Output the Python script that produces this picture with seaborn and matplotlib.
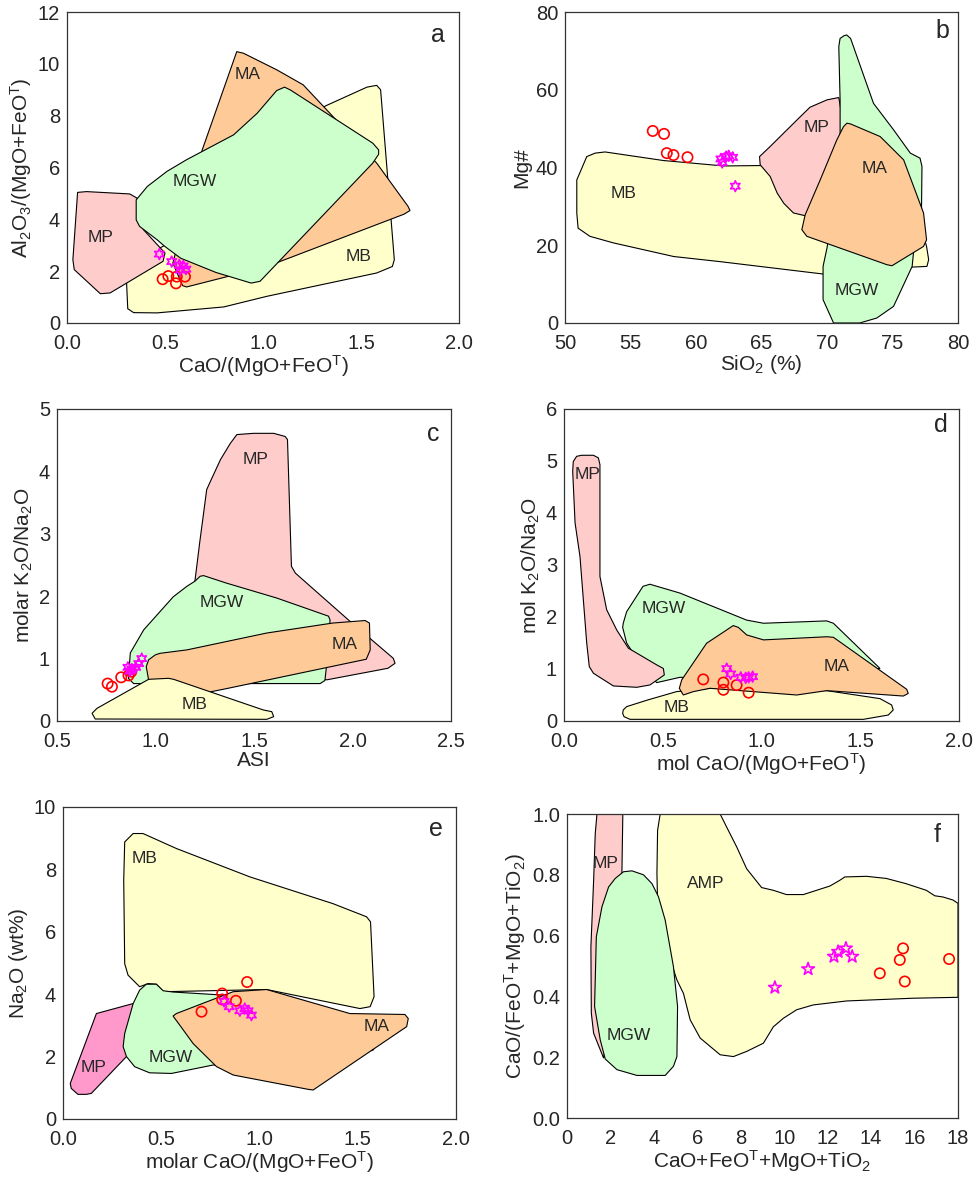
import matplotlib
matplotlib.use('Agg')
import matplotlib.pyplot as plt
import numpy as np
import pandas as pd
import seaborn as sns

# ---- field polygons (x, y) ----
# panel a : CaO/(MgO+FeOT) vs Al2O3/(MgO+FeOT)
a_mb = [(0.30, 2.2), (0.31, 0.55), (0.34, 0.40), (0.46, 0.39), (0.80, 0.62), (1.02, 1.03),
        (1.58, 1.93), (1.66, 2.18), (1.67, 2.44), (1.60, 9.0), (1.58, 9.17), (1.53, 9.1),
        (1.32, 8.38), (0.90, 6.5), (0.50, 3.0)]
a_ma = [(0.866, 10.47), (0.90, 10.41), (1.07, 9.77), (1.205, 9.19), (1.58, 6.17), (1.74, 4.50),
        (1.75, 4.34), (1.72, 4.20), (1.02, 2.18), (0.61, 1.39), (0.59, 1.44), (0.54, 2.31),
        (0.69, 6.68)]
a_mp = [(0.054, 5.04), (0.10, 5.07), (0.32, 4.98), (0.357, 4.82), (0.39, 3.6), (0.50, 2.70),
        (0.49, 2.38), (0.22, 1.16), (0.17, 1.13), (0.037, 2.06), (0.03, 2.44)]
a_mgw = [(0.353, 4.75), (0.41, 5.27), (0.51, 5.85), (0.61, 6.30), (0.85, 7.26), (0.97, 8.09),
         (1.07, 8.97), (1.11, 9.10), (1.14, 8.99), (1.56, 6.94), (1.59, 6.68), (1.59, 6.51),
         (1.56, 6.17), (0.985, 1.61), (0.94, 1.54), (0.76, 1.95), (0.58, 2.5), (0.50, 2.95),
         (0.46, 3.21), (0.37, 3.73), (0.353, 3.98)]

# panel b : SiO2 vs Mg#
b_mb = [(50.9, 36.8), (51.66, 42.8), (52.3, 43.7), (53.06, 44.0), (57.5, 41.8), (62.1, 40.4),
        (64.9, 40.5), (71.5, 40.3), (76.6, 31.7), (77.6, 19.7), (77.76, 16.3), (77.63, 14.56),
        (76.6, 14.4), (69.7, 12.6), (61.8, 15.8), (58.3, 17.1), (53.7, 20.6), (51.9, 22.3),
        (51.0, 24.4), (50.9, 28.3)]
b_mp = [(64.85, 42.8), (65.66, 45.4), (67.7, 52.2), (68.7, 55.5), (70.0, 57.4), (70.9, 58.0),
        (71.3, 50.0), (70.0, 35.0), (68.33, 27.6), (67.44, 28.3), (66.7, 30.8), (66.2, 33.4),
        (65.66, 37.7), (64.9, 40.7)]
b_mgw = [(71.3, 73.9), (71.5, 74.1), (71.8, 73.2), (73.55, 56.5), (75.08, 49.7), (76.36, 43.7),
         (77.1, 42.4), (77.25, 40.3), (77.2, 25.0), (76.6, 18.0), (76.5, 14.56), (75.08, 4.28),
         (73.8, 1.28), (72.5, 0.0), (70.5, 0.0), (69.7, 6.0), (69.7, 14.56), (70.0, 19.3),
         (71.0, 40.0), (71.0, 57.4), (70.9, 71.1), (71.0, 73.2)]
b_ma = [(71.52, 51.4), (71.8, 51.2), (74.06, 47.96), (75.85, 41.97), (77.37, 28.3), (77.6, 21.4),
        (77.37, 19.7), (74.96, 14.73), (74.57, 15.0), (68.46, 22.3), (68.08, 24.0), (68.33, 27.8),
        (69.48, 36.8), (70.75, 47.1), (71.26, 50.5)]

# panel c : ASI vs molar K2O/Na2O
c_mp = [(1.413, 4.59), (1.497, 4.61), (1.60, 4.61), (1.658, 4.56), (1.67, 4.51), (1.69, 2.48),
        (1.71, 2.37), (1.99, 1.59), (2.207, 1.005), (2.216, 0.925), (2.18, 0.845), (1.87, 0.66),
        (1.4, 0.9), (1.20, 2.24), (1.226, 2.90), (1.26, 3.71), (1.286, 3.89), (1.33, 4.19),
        (1.38, 4.45)]
c_mgw = [(1.244, 2.33), (1.36, 2.21), (1.616, 1.97), (1.878, 1.68), (1.886, 1.62), (1.866, 0.82),
         (1.86, 0.65), (1.836, 0.60), (0.889, 0.60), (0.863, 0.68), (0.872, 1.09), (0.94, 1.46),
         (1.09, 1.99), (1.16, 2.16), (1.20, 2.24), (1.227, 2.32)]
c_ma = [(0.999, 1.06), (1.024, 1.085), (1.16, 1.14), (1.565, 1.41), (1.90, 1.57), (2.064, 1.61),
        (2.086, 1.57), (2.09, 1.14), (2.07, 0.99), (1.362, 0.52), (1.26, 0.455), (0.965, 0.66),
        (0.953, 0.87), (0.965, 0.98)]
c_mb = [(0.678, 0.123), (0.694, 0.032), (1.565, 0.027), (1.60, 0.07), (1.59, 0.15), (1.548, 0.176),
        (1.092, 0.668), (1.066, 0.684), (0.965, 0.668), (0.703, 0.203)]

# panel d : mol CaO/(MgO+FeOT) vs mol K2O/Na2O
d_mb = [(0.30, 0.212), (0.317, 0.276), (0.42, 0.40), (0.57, 0.565), (0.74, 0.629), (1.33, 0.584),
        (1.60, 0.43), (1.659, 0.308), (1.667, 0.212), (1.642, 0.115), (1.516, 0.032),
        (0.334, 0.032), (0.304, 0.083), (0.297, 0.148)]
d_mgw = [(0.30, 1.88), (0.317, 2.10), (0.40, 2.59), (0.435, 2.63), (0.587, 2.46), (0.756, 2.20),
         (0.925, 1.94), (1.01, 1.88), (1.33, 1.925), (1.364, 1.88), (1.60, 1.01), (1.10, 0.80),
         (0.587, 0.84), (0.469, 0.738), (0.368, 1.20), (0.317, 1.50), (0.297, 1.80)]
d_mp = [(0.064, 5.09), (0.089, 5.11), (0.149, 5.11), (0.174, 5.06), (0.182, 4.93), (0.182, 2.78),
        (0.216, 2.14), (0.267, 1.75), (0.326, 1.40), (0.469, 1.08), (0.503, 1.01), (0.508, 0.886),
        (0.435, 0.693), (0.368, 0.648), (0.25, 0.674), (0.149, 0.918), (0.128, 1.046),
        (0.115, 1.50), (0.081, 3.16), (0.056, 3.81), (0.044, 4.80), (0.047, 4.99)]
d_ma = [(0.584, 0.629), (0.596, 0.79), (0.722, 1.495), (0.857, 1.835), (0.883, 1.80),
        (0.925, 1.655), (1.01, 1.56), (1.33, 1.62), (1.364, 1.61), (1.735, 0.61), (1.743, 0.53),
        (1.718, 0.48), (1.33, 0.584), (1.178, 0.50), (0.739, 0.629), (0.655, 0.565), (0.604, 0.50)]

# panel e : molar CaO/(MgO+FeOT) vs Na2O
e_mb = [(0.314, 8.88), (0.357, 9.15), (0.407, 9.15), (0.577, 8.67), (0.951, 7.76), (1.375, 6.9),
        (1.545, 6.48), (1.565, 6.32), (1.583, 3.92), (1.563, 3.60), (1.511, 3.54), (1.036, 4.15),
        (0.51, 4.08), (0.475, 4.32), (0.433, 4.34), (0.39, 4.24), (0.331, 4.61), (0.314, 4.98),
        (0.309, 7.65)]
e_mp = [(0.17, 3.38), (0.357, 3.70), (0.40, 3.0), (0.323, 2.0), (0.144, 0.82), (0.119, 0.79),
        (0.076, 0.79), (0.042, 0.98), (0.037, 1.14)]
e_mgw = [(0.39, 4.13), (0.424, 4.32), (0.475, 4.32), (0.51, 4.11), (0.56, 4.07), (1.0, 3.9),
         (1.587, 2.32), (1.578, 2.21), (1.2, 1.6), (0.764, 1.73), (0.552, 1.46), (0.441, 1.48),
         (0.365, 1.675), (0.323, 2.0), (0.306, 2.32), (0.314, 2.74), (0.357, 3.70)]
e_ma = [(0.56, 3.30), (0.577, 3.38), (0.866, 4.08), (1.036, 4.15), (1.46, 3.38), (1.74, 3.35),
        (1.757, 3.22), (1.749, 2.96), (1.273, 0.93), (1.248, 0.95), (0.866, 1.41), (0.781, 1.68),
        (0.662, 2.42), (0.594, 3.01)]

# panel f : CaO+FeOT+MgO+TiO2 vs CaO/(FeOT+MgO+TiO2)
f_mp = [(1.38, 1.0), (2.57, 1.0), (2.53, 0.815), (2.4, 0.5), (1.685, 0.197), (1.225, 0.279),
        (1.12, 0.345), (1.10, 0.563), (1.225, 0.78), (1.30, 0.935)]
f_amp = [(4.29, 1.0), (7.05, 1.0), (7.35, 0.957), (7.81, 0.892), (8.27, 0.82), (8.96, 0.758),
         (9.5, 0.749), (10.1, 0.735), (10.88, 0.735), (12.1, 0.763), (12.56, 0.782), (12.79, 0.793),
         (13.79, 0.795), (14.7, 0.788), (15.6, 0.771), (16.54, 0.749), (16.93, 0.731),
         (17.31, 0.727), (17.77, 0.717), (18.0, 0.706), (18.0, 0.397), (15.93, 0.394),
         (12.87, 0.385), (11.34, 0.372), (10.57, 0.356), (9.96, 0.328), (9.5, 0.30), (9.04, 0.246),
         (8.27, 0.219), (7.66, 0.202), (7.05, 0.208), (6.13, 0.263), (5.67, 0.323), (5.36, 0.41),
         (5.06, 0.454), (4.4, 0.6), (4.17, 0.711), (4.14, 0.804), (4.17, 0.946)]
f_mgw = [(1.915, 0.76), (2.22, 0.788), (2.60, 0.81), (2.99, 0.813), (3.52, 0.80), (3.91, 0.771),
         (4.21, 0.728), (4.52, 0.651), (4.90, 0.498), (5.09, 0.367), (5.06, 0.202), (4.90, 0.17),
         (4.52, 0.14), (3.22, 0.14), (2.30, 0.159), (1.76, 0.194), (1.53, 0.257), (1.27, 0.367),
         (1.35, 0.596), (1.61, 0.695)]

# ---- samples ----
a_circ_x = [0.488, 0.517, 0.556, 0.56, 0.602]
a_circ_y = [1.69, 1.81, 1.53, 1.79, 1.79]
a_star_x = [0.471, 0.534, 0.573, 0.593, 0.607, 0.577]
a_star_y = [2.66, 2.37, 2.24, 2.20, 2.08, 2.04]

b_circ_x = [56.7, 57.56, 57.77, 58.28, 59.35]
b_circ_y = [49.4, 48.65, 43.7, 43.2, 42.65]
b_star_x = [61.9, 62.0, 62.3, 62.5, 62.8, 63.0]
b_star_y = [42.2, 41.3, 42.8, 43.0, 42.6, 35.2]

c_circ_x = [0.757, 0.779, 0.826, 0.863, 0.877]
c_circ_y = [0.60, 0.55, 0.70, 0.73, 0.79]
c_star_x = [0.86, 0.87, 0.88, 0.90, 0.915, 0.93]
c_star_y = [0.86, 0.80, 0.83, 0.86, 0.92, 1.0]

d_circ_x = [0.705, 0.807, 0.807, 0.874, 0.935]
d_circ_y = [0.80, 0.74, 0.60, 0.69, 0.545]
d_star_x = [0.824, 0.844, 0.895, 0.92, 0.935, 0.955]
d_star_y = [1.007, 0.905, 0.84, 0.83, 0.84, 0.853]

e_circ_x = [0.705, 0.81, 0.81, 0.88, 0.937]
e_circ_y = [3.44, 4.02, 3.83, 3.79, 4.39]
e_star_x = [0.82, 0.846, 0.90, 0.925, 0.942, 0.959]
e_star_y = [3.77, 3.60, 3.47, 3.54, 3.47, 3.33]

f_circ_x = [14.4, 15.32, 15.47, 15.55, 17.59]
f_circ_y = [0.476, 0.52, 0.558, 0.449, 0.523]
f_star_x = [9.57, 11.1, 12.29, 12.48, 12.84, 13.13]
f_star_y = [0.429, 0.49, 0.531, 0.547, 0.558, 0.531]

C_MB = '#FFFFCC'
C_MA = '#FECB98'
C_MGW = '#CCFFCC'
C_MP = '#FFCCCC'
C_MP_E = '#FF99CC'

sns.set_style('white')
plt.rcParams['font.family'] = ['Liberation Sans', 'DejaVu Sans']
plt.rcParams['mathtext.default'] = 'regular'

W, H = 978, 1178
fig = plt.figure(figsize=(W / 100, H / 100), dpi=100)


def make_ax(x0, y0, x1, y1):
    return fig.add_axes([x0 / W, 1 - y1 / H, (x1 - x0) / W, (y1 - y0) / H])


def field(ax, pts, color):
    xs, ys = zip(*pts)
    ax.fill(xs, ys, facecolor=color, edgecolor='black', linewidth=0.8, zorder=2)


def samples(ax, cx, cy, sx, sy, star=(6, 1, 0), ssize=60):
    df1 = pd.DataFrame({'x': cx, 'y': cy})
    df2 = pd.DataFrame({'x': sx, 'y': sy})
    sns.scatterplot(data=df1, x='x', y='y', ax=ax, marker='o', s=55, facecolor='none',
                    edgecolor='red', linewidth=1.2, zorder=5)
    sns.scatterplot(data=df2, x='x', y='y', ax=ax, marker=star, s=ssize, facecolor='none',
                    edgecolor='#FF00FF', linewidth=1.2, zorder=6)


def style(ax, xlim, ylim, xt, yt, xfmt, yfmt, xlabel, ylabel, letter, lpos):
    ax.set_xlim(xlim)
    ax.set_ylim(ylim)
    ax.set_xticks(xt)
    ax.set_yticks(yt)
    ax.set_xticklabels([xfmt.format(v) for v in xt])
    ax.set_yticklabels([yfmt.format(v) for v in yt])
    ax.tick_params(direction='in', length=4, width=0.8, labelsize=14.5, color='#333333')
    ax.tick_params(axis='x', pad=8)
    ax.tick_params(axis='y', pad=5)
    ax.set_xlabel(xlabel, fontsize=15, labelpad=0)
    ax.set_ylabel(ylabel, fontsize=15, labelpad=3)
    for sp in ax.spines.values():
        sp.set_color('#333333')
        sp.set_linewidth(0.9)
    ax.text(lpos[0], lpos[1], letter, fontsize=18, ha='center', va='center')


def lab(ax, x, y, s):
    ax.text(x, y, s, fontsize=12.5, ha='center', va='center', zorder=4)


# a
ax = make_ax(67, 12, 459, 323)
for pts, c in [(a_mb, C_MB), (a_ma, C_MA), (a_mp, C_MP), (a_mgw, C_MGW)]:
    field(ax, pts, c)
samples(ax, a_circ_x, a_circ_y, a_star_x, a_star_y)
for x, y, s in [(0.92, 9.57, 'MA'), (0.65, 5.46, 'MGW'), (0.17, 3.28, 'MP'), (1.49, 2.57, 'MB')]:
    lab(ax, x, y, s)
style(ax, (0, 2), (0, 12), np.arange(0, 2.01, 0.5), np.arange(0, 13, 2), '{:.1f}', '{:.0f}',
      'CaO/(MgO+FeO$^T$)', 'Al$_2$O$_3$/(MgO+FeO$^T$)', 'a', (1.89, 11.1))

# b
ax = make_ax(565, 12, 958, 323)
for pts, c in [(b_mb, C_MB), (b_mp, C_MP), (b_mgw, C_MGW), (b_ma, C_MA)]:
    field(ax, pts, c)
samples(ax, b_circ_x, b_circ_y, b_star_x, b_star_y)
for x, y, s in [(69.2, 50.3, 'MP'), (73.6, 39.7, 'MA'), (54.5, 33.2, 'MB'), (72.3, 8.4, 'MGW')]:
    lab(ax, x, y, s)
style(ax, (50, 80), (0, 80), np.arange(50, 81, 5), np.arange(0, 81, 20), '{:.0f}', '{:.0f}',
      'SiO$_2$ (%)', 'Mg#', 'b', (78.8, 75))

# c
ax = make_ax(57, 409, 451, 721)
for pts, c in [(c_mp, C_MP), (c_mgw, C_MGW), (c_ma, C_MA), (c_mb, C_MB)]:
    field(ax, pts, c)
samples(ax, c_circ_x, c_circ_y, c_star_x, c_star_y)
for x, y, s in [(1.51, 4.19, 'MP'), (1.337, 1.90, 'MGW'), (1.96, 1.22, 'MA'), (1.20, 0.26, 'MB')]:
    lab(ax, x, y, s)
style(ax, (0.5, 2.5), (0, 5), np.arange(0.5, 2.51, 0.5), np.arange(0, 6, 1), '{:.1f}', '{:.0f}',
      'ASI', 'molar K$_2$O/Na$_2$O', 'c', (2.41, 4.6))

# d
ax = make_ax(564, 409, 959, 721)
for pts, c in [(d_mb, C_MB), (d_mgw, C_MGW), (d_mp, C_MP), (d_ma, C_MA)]:
    field(ax, pts, c)
samples(ax, d_circ_x, d_circ_y, d_star_x, d_star_y)
for x, y, s in [(0.118, 4.74, 'MP'), (0.503, 2.17, 'MGW'), (1.38, 1.05, 'MA'), (0.57, 0.257, 'MB')]:
    lab(ax, x, y, s)
style(ax, (0, 2), (0, 6), np.arange(0, 2.01, 0.5), np.arange(0, 7, 1), '{:.1f}', '{:.0f}',
      'mol CaO/(MgO+FeO$^T$)', 'mol K$_2$O/Na$_2$O', 'd', (1.91, 5.7))

# e
ax = make_ax(63, 807, 456, 1119)
for pts, c in [(e_mb, C_MB), (e_mp, C_MP_E), (e_mgw, C_MGW), (e_ma, C_MA)]:
    field(ax, pts, c)
samples(ax, e_circ_x, e_circ_y, e_star_x, e_star_y)
for x, y, s in [(0.416, 8.35, 'MB'), (1.596, 2.98, 'MA'), (0.547, 1.97, 'MGW'), (0.153, 1.65, 'MP')]:
    lab(ax, x, y, s)
style(ax, (0, 2), (0, 10), np.arange(0, 2.01, 0.5), np.arange(0, 11, 2), '{:.1f}', '{:.0f}',
      'molar CaO/(MgO+FeO$^T$)', 'Na$_2$O (wt%)', 'e', (1.9, 9.3))

# f
ax = make_ax(567, 814, 958, 1118)
for pts, c in [(f_mp, C_MP), (f_amp, C_MB), (f_mgw, C_MGW)]:
    field(ax, pts, c)
samples(ax, f_circ_x, f_circ_y, f_star_x, f_star_y, star='*', ssize=90)
for x, y, s in [(1.76, 0.837, 'MP'), (6.4, 0.771, 'AMP'), (2.86, 0.271, 'MGW')]:
    lab(ax, x, y, s)
style(ax, (0, 18), (0, 1), np.arange(0, 19, 2), np.arange(0, 1.01, 0.2), '{:.0f}', '{:.1f}',
      'CaO+FeO$^T$+MgO+TiO$_2$', 'CaO/(FeO$^T$+MgO+TiO$_2$)', 'f', (17.03, 0.93))

fig.savefig('out.png', dpi=100)
